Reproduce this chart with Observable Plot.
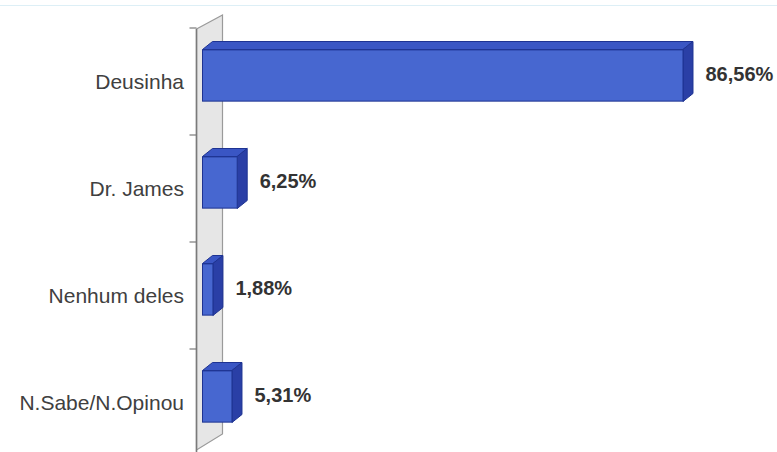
<!DOCTYPE html>
<html>
<head>
<meta charset="utf-8">
<script src="https://cdn.jsdelivr.net/npm/d3@7"></script>
<script src="https://cdn.jsdelivr.net/npm/@observablehq/plot@0.6"></script>
<style>
  html, body { margin: 0; padding: 0; background: #fff; }
  #wrap { position: relative; width: 777px; height: 452px; overflow: hidden; }
  #topline { position: absolute; left: 0; top: 5px; width: 777px; height: 1px; background: #ddeff6; }
  #chart { position: absolute; left: 0; top: 0; }
</style>
</head>
<body>
<div id="wrap"><div id="topline"></div><div id="chart"></div></div>
<script>
const categories = ["Deusinha", "Dr. James", "Nenhum deles", "N.Sabe/N.Opinou"];
const values = [86.56, 6.25, 1.88, 5.31];
const valueLabels = ["86,56%", "6,25%", "1,88%", "5,31%"];

const rows = categories.map((c, i) => ({cat: c, value: values[i], label: valueLabels[i]}));

const DEPTH_X = 10, DEPTH_Y = -8, BAR_H = 52, BAR_DY = -6;

function bw(s) { return typeof s.bandwidth === "function" ? s.bandwidth() : s.bandwidth; }

// wall + category ticks (drawn through the scales)
function wallMark(index, scales) {
  const x = scales.x, y = scales.y, b = bw(y);
  const x0 = x(0);
  const yTop = y(categories[0]);
  const yBot = y(categories[categories.length - 1]) + b;
  const xf = x0 - 6, xb = x0 + 20;
  const g = d3.create("svg:g");
  g.append("path")
    .attr("d", `M${xf},${yTop + 1}L${xb},${yTop - 13}L${xb},${yBot - 22}L${xf},${yBot - 6}Z`)
    .attr("fill", "#e6e6e6").attr("stroke", "#9a9a9a").attr("stroke-width", 1.2);
  g.append("line").attr("x1", xf).attr("x2", xf).attr("y1", yTop + 1).attr("y2", yBot)
    .attr("stroke", "#7a7a7a").attr("stroke-width", 1.6);
  const bounds = categories.map(c => y(c)).concat([yBot]);
  g.selectAll("line.t").data(bounds).join("line")
    .attr("x1", xf - 7).attr("x2", xf).attr("y1", d => d).attr("y2", d => d)
    .attr("stroke", "#7a7a7a").attr("stroke-width", 1.2);
  return g.node();
}

// 3D top and side faces of each bar
function facesMark(index, scales) {
  const x = scales.x, y = scales.y, b = bw(y);
  const g = d3.create("svg:g");
  rows.forEach(r => {
    const cy = y(r.cat) + b / 2 + BAR_DY;
    const t = cy - BAR_H / 2, bt = cy + BAR_H / 2;
    const x0 = x(0), xv = x(r.value);
    g.append("path")
      .attr("d", `M${x0},${t}L${x0 + DEPTH_X},${t + DEPTH_Y}L${xv + DEPTH_X},${t + DEPTH_Y}L${xv},${t}Z`)
      .attr("fill", "#3a56c4").attr("stroke", "#1e3392").attr("stroke-width", 1);
    g.append("path")
      .attr("d", `M${xv},${t}L${xv + DEPTH_X},${t + DEPTH_Y}L${xv + DEPTH_X},${bt + DEPTH_Y}L${xv},${bt}Z`)
      .attr("fill", "#2a3fa6").attr("stroke", "#1e3392").attr("stroke-width", 1);
  });
  return g.node();
}

const bandStep = (457 - 26) / categories.length;
const inset = (bandStep - BAR_H) / 2;

const chart = Plot.plot({
  width: 777,
  height: 452,
  marginLeft: 0, marginRight: 0, marginTop: 0, marginBottom: 0,
  style: {fontFamily: "'Liberation Sans', Arial, sans-serif", background: "transparent"},
  x: {domain: [0, 100], range: [202.5, 757.6], axis: null},
  y: {type: "band", domain: categories, range: [26, 457], padding: 0, axis: null},
  marks: [
    wallMark,
    facesMark,
    Plot.barX(rows, {
      x1: 0, x2: "value", y: "cat",
      insetTop: inset, insetBottom: inset, dy: BAR_DY,
      fill: "#4767d0", stroke: "#1e3392", strokeWidth: 1
    }),
    Plot.text(rows, {
      x: 0, y: "cat", text: "cat", dx: -19, textAnchor: "end",
      fontSize: 21, fill: "#404040"
    }),
    Plot.text(rows, {
      x: "value", y: "cat", text: "label", dx: 22, dy: -7, textAnchor: "start",
      fontSize: 20, fontWeight: "bold", fill: "#333"
    })
  ]
});
document.getElementById("chart").appendChild(chart);
</script>
</body>
</html>
